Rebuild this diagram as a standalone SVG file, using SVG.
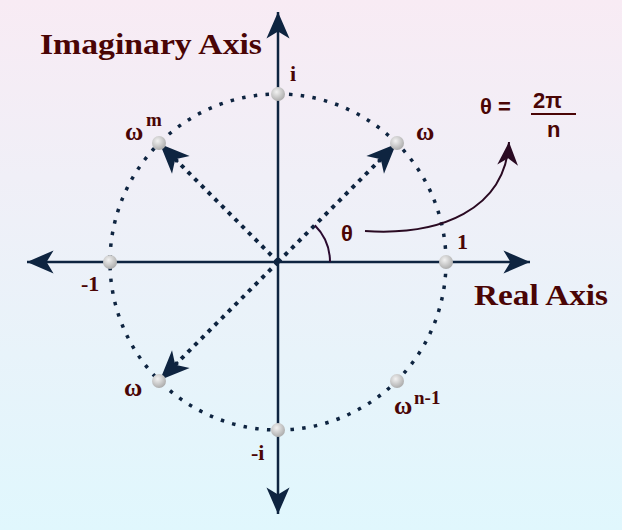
<svg xmlns="http://www.w3.org/2000/svg" width="622" height="530" viewBox="0 0 622 530">
<defs>
<linearGradient id="bg" x1="0" y1="0" x2="0" y2="1">
<stop offset="0" stop-color="#f8ebf4"/>
<stop offset="1" stop-color="#e0f7fd"/>
</linearGradient>
<radialGradient id="pt" cx="0.4" cy="0.35" r="0.7">
<stop offset="0" stop-color="#f2f2f2"/>
<stop offset="1" stop-color="#a8a8a8"/>
</radialGradient>
<marker id="ah" markerUnits="userSpaceOnUse" markerWidth="30" markerHeight="30" viewBox="-24 -12 26 24" refX="0" refY="0" orient="auto">
<path d="M0,0 L-23,-10 L-17,0 L-23,10 Z" fill="#0e2440"/>
</marker>
<marker id="ah3" markerUnits="userSpaceOnUse" markerWidth="34" markerHeight="34" viewBox="-28 -14 30 28" refX="0" refY="0" orient="auto">
<path d="M0,0 L-26,-11 L-19,0 L-26,11 Z" fill="#0e2440"/>
</marker>
<marker id="ah2" markerUnits="userSpaceOnUse" markerWidth="30" markerHeight="30" viewBox="-24 -12 26 24" refX="0" refY="0" orient="auto">
<path d="M0,0 L-20,-9 L-14,0 L-20,9 Z" fill="#2a0a22"/>
</marker>
<style>
.axis{stroke:#0e2440;stroke-width:2.5;fill:none}
.dots{stroke:#0e2440;stroke-width:4;fill:none;stroke-dasharray:4 5.5}
.circ{stroke:#0e2440;stroke-width:3.5;fill:none;stroke-dasharray:3.5 8.3}
.lbl{font-family:"Liberation Serif",serif;font-weight:bold;fill:#4a0505}
.sans{font-family:"Liberation Sans",sans-serif;font-weight:bold;fill:#4a0505}
</style>
</defs>
<rect width="622" height="530" fill="url(#bg)"/>
<g id="circle"><circle cx="278" cy="262" r="168" class="circ"/></g>
<g id="connectors">
<line x1="278" y1="262" x2="278" y2="12" class="axis" marker-end="url(#ah)"/>
<line x1="278" y1="262" x2="278" y2="514" class="axis" marker-end="url(#ah)"/>
<line x1="278" y1="262" x2="27" y2="262" class="axis" marker-end="url(#ah)"/>
<line x1="278" y1="262" x2="530" y2="262" class="axis" marker-end="url(#ah)"/>
<line x1="278" y1="262" x2="388" y2="152" class="dots"/>
<line x1="378" y1="162" x2="396" y2="144" class="axis" stroke-width="1" marker-end="url(#ah3)"/>
<line x1="278" y1="262" x2="168" y2="152" class="dots"/>
<line x1="178" y1="162" x2="160" y2="144" class="axis" stroke-width="1" marker-end="url(#ah3)"/>
<line x1="278" y1="262" x2="168" y2="372" class="dots"/>
<line x1="178" y1="362" x2="160" y2="380" class="axis" stroke-width="1" marker-end="url(#ah3)"/>
<path d="M330,262 A52,52 0 0 0 314.8,225.2" fill="none" stroke="#2a0a30" stroke-width="2"/>
<path d="M365,231 C440,236 505,210 509,142" fill="none" stroke="#2a0a22" stroke-width="2" marker-end="url(#ah2)"/>
</g>
<g id="points">
<circle cx="278" cy="94" r="7" fill="url(#pt)"/>
<circle cx="278" cy="430" r="7" fill="url(#pt)"/>
<circle cx="110" cy="262" r="7" fill="url(#pt)"/>
<circle cx="446" cy="262" r="7" fill="url(#pt)"/>
<circle cx="397" cy="143" r="7" fill="url(#pt)"/>
<circle cx="159" cy="143" r="7" fill="url(#pt)"/>
<circle cx="159" cy="381" r="7" fill="url(#pt)"/>
<circle cx="397" cy="381" r="7" fill="url(#pt)"/>
</g>
<g id="labels">
<text x="40" y="54" class="lbl" font-size="30" textLength="222" lengthAdjust="spacingAndGlyphs">Imaginary Axis</text>
<text x="474" y="305" class="lbl" font-size="30" textLength="134" lengthAdjust="spacingAndGlyphs">Real Axis</text>
<text x="290" y="81" class="lbl" font-size="22">i</text>
<text x="457" y="249" class="lbl" font-size="22">1</text>
<text x="81" y="291" class="lbl" font-size="22">-1</text>
<text x="251" y="460" class="lbl" font-size="22">-i</text>
<text x="416" y="140" class="lbl" font-size="25">ω</text>
<text x="125" y="140" class="lbl" font-size="25">ω</text>
<text x="146" y="126" class="lbl" font-size="19">m</text>
<text x="124" y="396" class="lbl" font-size="25">ω</text>
<text x="394" y="414" class="lbl" font-size="25">ω</text>
<text x="414" y="404" class="lbl" font-size="19">n-1</text>
<text x="341" y="241" class="sans" font-size="22">θ</text>
<text x="480" y="114" class="sans" font-size="22">θ =</text>
<text x="533" y="108" class="sans" font-size="22">2π</text>
<line x1="531" y1="114" x2="576" y2="114" stroke="#4a0505" stroke-width="2"/>
<text x="547" y="137" class="sans" font-size="22">n</text>
</g>
</svg>
